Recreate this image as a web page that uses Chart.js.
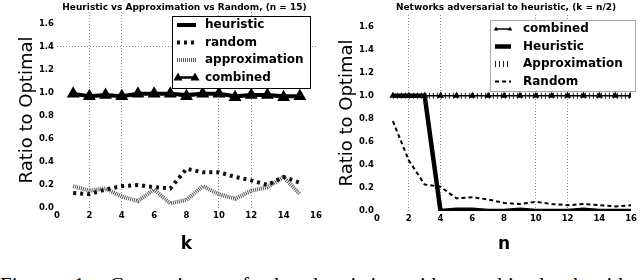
<!DOCTYPE html>
<html>
<head>
<meta charset="utf-8">
<script src="https://cdn.jsdelivr.net/npm/chart.js@4.4.0/dist/chart.umd.min.js"></script>
<style>
  body { margin: 0; width: 640px; height: 280px; overflow: hidden; background: #fff; position: relative; }
  #left { position: absolute; left: 0; top: 0; }
  #right { position: absolute; left: 320px; top: 0; }
  #caption { position: absolute; left: 0; top: 273px; font: 21px "Liberation Serif", serif; white-space: nowrap; word-spacing: 14px; color: #000; }
</style>
</head>
<body>
<canvas id="left" width="340" height="255"></canvas>
<canvas id="right" width="320" height="255"></canvas>
<div id="caption">Figure 1: Comparison of the heuristic with combined algorithm with</div>
<script>
// left: n = 15, x = k
const kValues = [1, 2, 3, 4, 5, 6, 7, 8, 9, 10, 11, 12, 13, 14, 15];
const heuristicK = [0.99, 0.97, 0.98, 0.97, 0.99, 0.99, 0.99, 0.98, 0.99, 0.99, 0.97, 0.98, 0.98, 0.97, 0.97];
const randomK = [0.13, 0.12, 0.16, 0.19, 0.2, 0.18, 0.17, 0.34, 0.31, 0.31, 0.27, 0.24, 0.2, 0.27, 0.22];
const approxK = [0.19, 0.15, 0.17, 0.1, 0.06, 0.16, 0.04, 0.07, 0.19, 0.12, 0.08, 0.15, 0.18, 0.27, 0.12];
const combinedK = [0.99, 0.97, 0.98, 0.97, 0.99, 0.99, 0.99, 0.97, 0.99, 0.99, 0.96, 0.98, 0.98, 0.96, 0.97];

// right: adversarial networks, x = n
const nValues = [1, 2, 3, 4, 5, 6, 7, 8, 9, 10, 11, 12, 13, 14, 15, 16];
const combinedN = [1, 1, 1, 1, 1, 1, 1, 1, 1, 1, 1, 1, 1, 1, 1, 1];
const heuristicN = [1, 1, 1, 0, 0.01, 0.01, 0, 0, 0.01, 0, 0, 0, 0.01, 0, 0, 0];
const approxN = [1, 1, 1, 1, 1, 1, 1, 1, 1, 1, 1, 1, 1, 1, 1, 1];
const randomN = [0.78, 0.44, 0.23, 0.21, 0.11, 0.12, 0.1, 0.07, 0.06, 0.08, 0.06, 0.05, 0.06, 0.05, 0.04, 0.05];

const xTicks = [0, 2, 4, 6, 8, 10, 12, 14, 16];
const yTicks = [0, 0.2, 0.4, 0.6, 0.8, 1.0, 1.2, 1.4, 1.6];

function pts(xs, ys) {
  return xs.map((x, i) => ({ x: x, y: ys[i] }));
}

const topTitle = {
  id: "topTitle",
  afterDraw(chart, args, opts) {
    const { ctx, chartArea } = chart;
    ctx.save();
    ctx.font = "bold 9px 'DejaVu Sans'";
    ctx.fillStyle = "#000";
    ctx.textAlign = "center";
    ctx.textBaseline = "alphabetic";
    ctx.fillText(opts.text, (chartArea.left + chartArea.right) / 2 + opts.shift, 10);
    ctx.restore();
  },
};

function drawTri(ctx, x, y, r) {
  ctx.beginPath();
  ctx.moveTo(x, y - r);
  ctx.lineTo(x + r * 0.9, y + r * 0.6);
  ctx.lineTo(x - r * 0.9, y + r * 0.6);
  ctx.closePath();
  ctx.fill();
}

const legendBox = {
  id: "legendBox",
  afterDraw(chart, args, opts) {
    const { ctx } = chart;
    ctx.save();
    ctx.fillStyle = "#fff";
    ctx.fillRect(opts.x, opts.y, opts.w, opts.h);
    ctx.strokeStyle = opts.border;
    ctx.lineWidth = 1;
    ctx.strokeRect(opts.x + 0.5, opts.y + 0.5, opts.w, opts.h);
    chart.data.datasets.forEach(function (ds, i) {
      var y = opts.y + opts.first + i * opts.step;
      var x0 = opts.x + 5;
      var x1 = opts.x + opts.sample;
      ctx.strokeStyle = ds.borderColor;
      ctx.lineWidth = ds.borderWidth;
      ctx.setLineDash(ds.borderDash || []);
      ctx.beginPath();
      ctx.moveTo(x0, y);
      ctx.lineTo(x1, y);
      ctx.stroke();
      ctx.setLineDash([]);
      if (ds.pointRadius > 0) {
        ctx.fillStyle = "#000";
        drawTri(ctx, x0 + 1, y, ds.pointRadius);
        drawTri(ctx, x1 - 1, y, ds.pointRadius);
      }
      ctx.fillStyle = "#000";
      ctx.font = "bold 12px 'DejaVu Sans'";
      ctx.textBaseline = "middle";
      ctx.textAlign = "left";
      ctx.fillText(ds.label, opts.x + opts.textX, y);
    });
    ctx.restore();
  },
};

function makeScales(xTitle, yGrid, xGrid, yWidth, xHeight) {
  return {
    x: {
      type: "linear",
      min: 0,
      max: 16,
      afterBuildTicks: function (s) { s.ticks = xTicks.map(function (v) { return { value: v }; }); },
      afterFit: function (s) { s.height = xHeight; },
      ticks: { color: "#000", font: { family: "DejaVu Sans", size: 8.5, weight: "bold" }, padding: 3, autoSkip: false, maxRotation: 0,
        callback: function (v) { return String(v); } },
      grid: { drawTicks: false, lineWidth: 1,
        color: function (c) { return xGrid.indexOf(c.tick.value) >= 0 ? "#888" : "rgba(0,0,0,0)"; } },
      border: { display: false, dash: [1, 2] },
      title: { display: true, text: xTitle, color: "#000", font: { family: "DejaVu Sans", size: 17, weight: "bold" }, padding: { top: 0, bottom: 0 } },
    },
    y: {
      min: 0,
      max: 1.7,
      afterBuildTicks: function (s) { s.ticks = yTicks.map(function (v) { return { value: v }; }); },
      afterFit: function (s) { s.width = yWidth; },
      ticks: { color: "#000", font: { family: "DejaVu Sans", size: 8.5, weight: "bold" }, padding: 3,
        callback: function (v) { return v.toFixed(1); } },
      grid: { drawTicks: false, lineWidth: 1,
        color: function (c) { return yGrid.indexOf(c.tick.value) >= 0 ? "#888" : "rgba(0,0,0,0)"; } },
      border: { display: false, dash: [1, 2] },
      title: { display: true, text: "Ratio to Optimal", color: "#000", font: { family: "DejaVu Sans", size: 18 }, padding: { top: 17, bottom: 0 } },
    },
  };
}

new Chart(document.getElementById("left").getContext("2d"), {
  type: "line",
  plugins: [topTitle, legendBox],
  data: {
    datasets: [
      { label: "heuristic", data: pts(kValues, heuristicK), borderColor: "#000", borderWidth: 4, pointRadius: 0, order: 2 },
      { label: "random", data: pts(kValues, randomK), borderColor: "#111", borderWidth: 4, borderDash: [3, 4], pointRadius: 0, order: 3 },
      { label: "approximation", data: pts(kValues, approxK), borderColor: "#555", borderWidth: 4, borderDash: [1, 1], pointRadius: 0, order: 4 },
      { label: "combined", data: pts(kValues, combinedK), borderColor: "#000", backgroundColor: "#000", borderWidth: 2.5,
        pointStyle: "triangle", pointRadius: 5, order: 1 },
    ],
  },
  options: {
    responsive: false,
    animation: false,
    layout: { padding: { left: 0, right: 24, top: 12, bottom: 0 } },
    scales: makeScales("k", [1.4], [2, 4, 10, 12], 57, 47),
    plugins: {
      legend: { display: false },
      tooltip: { enabled: false },
      topTitle: { text: "Heuristic vs Approximation vs Random, (n = 15)", shift: -2 },
      legendBox: { x: 172, y: 16, w: 138, h: 72, border: "#000", first: 9, step: 17.5, sample: 24, textX: 33 },
    },
  },
});

new Chart(document.getElementById("right").getContext("2d"), {
  type: "line",
  plugins: [topTitle, legendBox],
  data: {
    datasets: [
      { label: "combined", data: pts(nValues, combinedN), borderColor: "#000", backgroundColor: "#000", borderWidth: 1.5,
        pointStyle: "triangle", pointRadius: 2.5, order: 1 },
      { label: "Heuristic", data: pts(nValues, heuristicN), borderColor: "#000", borderWidth: 4.5, pointRadius: 0, order: 2 },
      { label: "Approximation", data: pts(nValues, approxN), borderColor: "#222", borderWidth: 6, borderDash: [1, 3], pointRadius: 0, order: 3 },
      { label: "Random", data: pts(nValues, randomN), borderColor: "#000", borderWidth: 2, borderDash: [4, 3], pointRadius: 0, order: 4 },
    ],
  },
  options: {
    responsive: false,
    animation: false,
    layout: { padding: { left: 0, right: 5, top: 15, bottom: 0 } },
    scales: makeScales("n", [], [2, 4, 10, 12], 57, 44),
    plugins: {
      legend: { display: false },
      tooltip: { enabled: false },
      topTitle: { text: "Networks adversarial to heuristic, (k = n/2)", shift: 2 },
      legendBox: { x: 170, y: 20, w: 145, h: 71, border: "#aaa", first: 9, step: 17.5, sample: 21, textX: 33 },
    },
  },
});
</script>
</body>
</html>
